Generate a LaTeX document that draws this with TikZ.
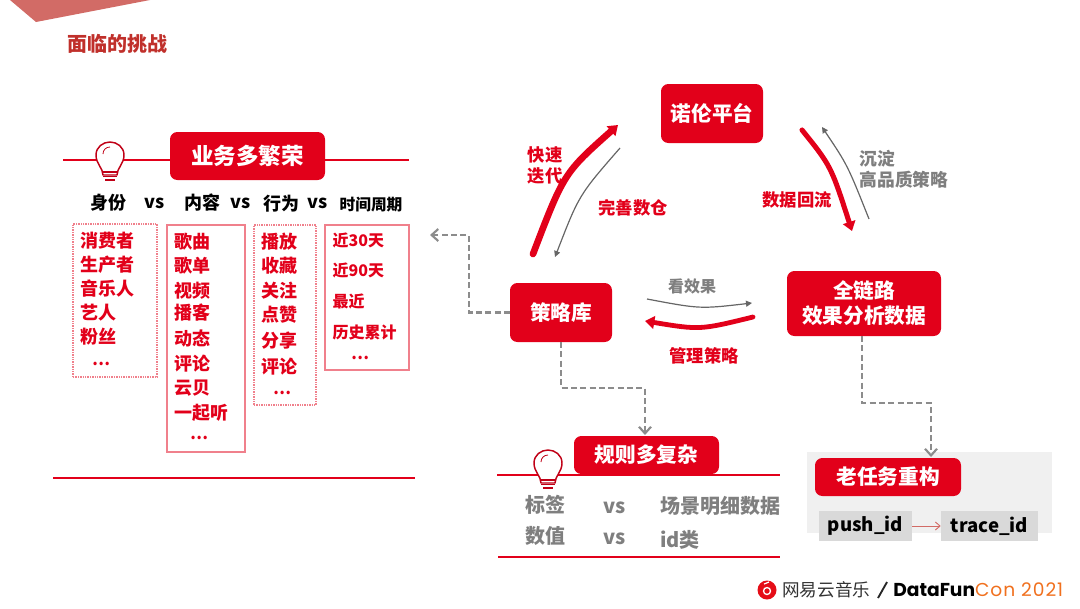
\documentclass[tikz,border=0pt]{standalone}
\usepackage{fontspec}
\setmainfont{Noto Sans CJK SC}
\newfontfamily\logofont{Poppins}
\newfontfamily\logolight[LetterSpace=5]{Poppins}
\usetikzlibrary{arrows.meta}
\definecolor{nered}{HTML}{E2001A}
\definecolor{negray}{HTML}{7F7F7F}
\definecolor{dashgray}{HTML}{8C8C8C}
\definecolor{boxline}{HTML}{F0808C}
\definecolor{titlered}{HTML}{C0302B}
\definecolor{wedge}{HTML}{D26B66}
\definecolor{orangec}{HTML}{F0701E}
\newcommand{\fsz}[1]{\fontsize{#1}{1.2\dimexpr#1\relax}\selectfont}
\tikzset{
  x=0.75pt,y=-0.75pt,
  redbox/.style={fill=nered,rounded corners=5.5pt,text=white,font=\bfseries\fsz{15.5pt},align=center,inner sep=0pt,line width=0pt},
  item/.style={anchor=west,inner sep=0pt,text=nered,yshift=-0.7pt,xshift=-0.5pt,font=\bfseries\fsz{13.5pt}},
  head/.style={inner sep=0pt,text=black,yshift=-0.7pt,font=\bfseries\fsz{13.5pt}},
  redlab/.style={inner sep=0pt,text=nered,yshift=-0.5pt,font=\bfseries\fsz{13pt}},
  graylab/.style={inner sep=0pt,text=negray,font=\bfseries\fsz{12.75pt}},
  graybig/.style={inner sep=0pt,text=negray,font=\bfseries\fsz{15pt}},
  listbox/.style={draw=boxline,line width=0.8pt,inner sep=0pt},
  listdot/.style={listbox,dash pattern=on 1pt off 0.8pt},
  hline/.style={draw=nered,line width=1.1pt},
  dashline/.style={draw=dashgray,line width=1.9pt,dash pattern=on 4.5pt off 2.5pt,-{Straight Barb[length=5pt,width=9pt,line width=1.6pt]}},
  thick arrow/.style={draw=nered,line cap=round,-{Triangle[length=7pt,width=9.5pt]}},
  thin arrow/.style={draw=black!60,line width=0.9pt,-{Triangle[length=4.5pt,width=4.5pt]}},
  idbox/.style={fill=black!15,inner sep=0pt,text=black,font=\bfseries\fsz{14pt}},
  ell/.style={inner sep=0pt,text=nered,font=\bfseries\fsz{12pt}},
  bulb/.pic={
    \draw[draw=nered!85!black,line width=1.1pt,fill=white,line join=round]
      (-7,14) .. controls (-7,7) and (-14,3) .. (-14,-6)
      .. controls (-14,-14) and (-7,-19) .. (0,-19)
      .. controls (7,-19) and (14,-14) .. (14,-6)
      .. controls (14,3) and (7,7) .. (7,14) -- cycle;
    \draw[draw=nered!85!black,line width=0.8pt] (-7,11) -- (7,11) (-7,15.5) -- (7,15.5) (-5,19) -- (5,19);
    \draw[draw=nered!85!black,line width=0.6pt] (-7,-7) .. controls (-7,-11) and (-4,-14) .. (0,-14);
  },
}
\begin{document}
\begin{tikzpicture}
\useasboundingbox (0,0) rectangle (1080,608);
% corner wedge and title
\fill[wedge] (10,0) -- (36,22) -- (150,0) -- cycle;
\node[inner sep=0pt,text=titlered,font=\bfseries\fsz{15pt}] (title) at (117.5,44) {面临的挑战};

% left panel
\node[redbox,minimum width=155*0.75pt,minimum height=48*0.75pt,font=\bfseries\fsz{16.9pt}] (biz) at (247.5,156) {业务多繁荣};
\coordinate (bizL) at (63,160);
\coordinate (bizR) at (409,160);
\draw[hline] (bizL) -- (biz.west |- bizL);
\draw[hline] (biz.east |- bizR) -- (bizR);
\pic at (110,161) {bulb};

\node[head] (h1) at (108,202) {身份};
\node[head] (v1) at (155,202) {vs};
\node[head] (h2) at (202,202) {内容};
\node[head] (v2) at (241,202) {vs};
\node[head] (h3) at (281,203) {行为};
\node[head] (v3) at (318,202) {vs};
\node[head,font=\bfseries\fsz{11.8pt}] (h4) at (371,204) {时间周期};

\node[listdot,minimum width=84*0.75pt,minimum height=153*0.75pt] (b1) at (115,300.5) {};
\node[listbox,minimum width=78*0.75pt,minimum height=227*0.75pt] (b2) at (206,338.5) {};
\node[listdot,minimum width=62*0.75pt,minimum height=180*0.75pt] (b3) at (285,315) {};
\node[listbox,minimum width=84*0.75pt,minimum height=145*0.75pt] (b4) at (367,297.5) {};

\foreach \t/\y in {消费者/240,生产者/264,音乐人/288,艺人/312,粉丝/336}
  \node[item] (a\y) at (81,\y) {\t};
\node[ell] (adots) at (101,364) {…};
\foreach \t/\y in {歌曲/241,歌单/265,视频/290,播客/312,动态/338,评论/363,云贝/387,一起听/412}
  \node[item] (c\y) at (175,\y) {\t};
\node[ell] (cdots) at (199,438) {…};
\foreach \t/\y in {播放/241,收藏/265,关注/290,点赞/314,分享/340,评论/366}
  \node[item] (d\y) at (262,\y) {\t};
\node[ell] (ddots) at (282,393) {…};
\foreach \t/\y in {近30天/240,近90天/270,最近/301,历史累计/332}
  \node[item,font=\bfseries\fsz{12pt}] (e\y) at (333,\y) {\t};
\node[ell] (edots) at (360,358) {…};

\coordinate (botL) at (53,478);
\coordinate (botR) at (415,478);
\draw[hline] (botL) -- (botR);

% cycle
\node[redbox,minimum width=102*0.75pt,minimum height=59*0.75pt] (nuolun) at (712,113.5) {诺伦平台};
\node[redbox,minimum width=102*0.75pt,minimum height=59*0.75pt] (celue) at (561,312.5) {策略库};
\node[redbox,minimum width=154*0.75pt,minimum height=65*0.75pt] (quan) at (864,303.5) {全链路\\效果分析数据};

\coordinate (r1a) at (533,254); \coordinate (r1b) at (618,125);
\coordinate (g1a) at (620,148); \coordinate (g1b) at (555,257);
\coordinate (r2a) at (802,130); \coordinate (r2b) at (852,231);
\coordinate (g2a) at (869,219); \coordinate (g2b) at (822,127);
\coordinate (g3a) at (647,299); \coordinate (g3b) at (752,303);
\coordinate (r3a) at (753,317); \coordinate (r3b) at (645,321);

\draw[thick arrow,line width=5pt] (r1a) .. controls (564,173) .. (r1b);
\draw[thin arrow] (g1a) .. controls (579,195) .. (g1b);
\draw[thick arrow,line width=3.8pt] (r2a) .. controls (831,166) .. (r2b);
\draw[thin arrow] (g2a) .. controls (847.5,165) .. (g2b);
\draw[thin arrow] (g3a) .. controls (700,309) .. (g3b);
\draw[thick arrow,line width=3.6pt] (r3a) .. controls (700,330) .. (r3b);

\node[redlab,align=left] (kuai) at (545,165) {快速\\迭代};
\node[redlab] (wan) at (633,207) {完善数仓};
\node[redlab] (shu) at (797,199) {数据回流};
\node[graylab,anchor=west,align=left,font=\bfseries\fsz{13.3pt}] (chen) at (859.5,169) {沉淀\\高品质策略};
\node[graylab,font=\bfseries\fsz{12pt}] (kan) at (692,286) {看效果};
\node[redlab] (guan) at (704,355) {管理策略};

% dashed connectors
\coordinate (leftend) at (430,235);
\draw[dashline] (celue.west) -| (469,235) -- (leftend);
\draw[dashline] (celue.south) |- (645,388) -- (645,435);
\node[redbox,minimum width=145*0.75pt,minimum height=38*0.75pt] (rule) at (646.5,455) {规则多复杂};

% rule panel
\coordinate (ruleL) at (497,475); \coordinate (ruleR) at (780,475);
\draw[hline] (ruleL) -- (ruleR);
\pic at (548,469) {bulb};
\node[graybig] (t1) at (545,505) {标签};
\node[graybig] (t2) at (615,508) {vs};
\node[graybig,anchor=west] (t3) at (660,506) {场景明细数据};
\node[graybig] (t4) at (545,536) {数值};
\node[graybig] (t5) at (615,539) {vs};
\node[graybig,anchor=west] (t6) at (660,540) {id类};
\coordinate (rule2L) at (498,557); \coordinate (rule2R) at (780,557);
\draw[hline] (rule2L) -- (rule2R);

% refactor panel
\node[fill=black!6,inner sep=0pt,minimum width=245*0.75pt,minimum height=81*0.75pt] (panel) at (929.5,492.5) {};
\coordinate (mid) at (931,403);
\node[redbox,minimum width=146*0.75pt,minimum height=38*0.75pt] (old) at (888,477) {老任务重构};
\draw[dashline] (quan.south -| 862,0) -- (862,403) -- (mid) -- (931,457);
\node[idbox,minimum width=93*0.75pt,minimum height=30*0.75pt] (push) at (865.5,526) {\raisebox{-1pt}{push\_id}};
\node[idbox,minimum width=97*0.75pt,minimum height=30*0.75pt] (trace) at (989.5,526) {\raisebox{-1pt}{trace\_id}};
\draw[draw=wedge,line width=0.7pt,-{Straight Barb[length=3.5pt,width=6pt]}] (push) -- (trace);

% footer
\node[circle,fill=nered!90!orange,minimum size=19*0.75pt,inner sep=0pt] (logo) at (767,590) {};
\draw[white,line width=1pt] (767,591) circle (3.5);
\draw[white,line width=0.9pt] (764,584) -- (769,582);
\node[anchor=west,inner sep=0pt,text=black!80,font=\fsz{13.2pt}] (wy) at (782,590) {网易云音乐};
\draw[black!85,line width=1.4pt] (878,598) -- (887,582);
\node[anchor=west,inner sep=0pt,font=\logofont\bfseries\fsz{14pt}] (df) at (893,590) {DataFun\textcolor{orangec}{\logolight\mdseries Con 2021}};
\end{tikzpicture}
\end{document}
